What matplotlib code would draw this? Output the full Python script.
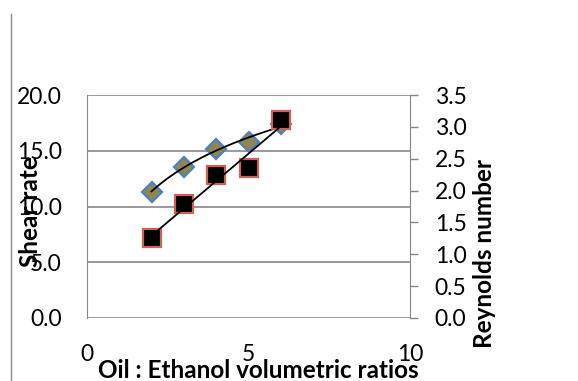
import numpy as np
import matplotlib
matplotlib.use("Agg")
import matplotlib.pyplot as plt
from matplotlib.lines import Line2D

plt.rcParams['font.family'] = ['Lato', 'DejaVu Sans']

# oil : ethanol volumetric ratio vs measured values
ratios = [2, 3, 4, 5, 6]
shear_rate = [11.33, 13.57, 15.16, 15.75, 17.4]
reynolds = [1.25, 1.79, 2.24, 2.36, 3.11]

xticks = [0, 5, 10]
shear_ticks = [0, 5, 10, 15, 20]
re_ticks = [0, 0.5, 1.0, 1.5, 2.0, 2.5, 3.0, 3.5]

W, H = 578, 381
grey = '#878787'

fig = plt.figure(figsize=(W / 100, H / 100), dpi=100)
ax = fig.add_axes([87 / W, 1 - 318 / H, (410 - 87) / W, (318 - 95) / H])
ax2 = ax.twinx()

# trend lines: log fit for shear rate, linear fit for Reynolds number
xs = np.linspace(min(ratios), max(ratios), 100)
b, a = np.polyfit(np.log(ratios), shear_rate, 1)
m, c = np.polyfit(ratios, reynolds, 1)

ax.plot(ratios, shear_rate, linestyle='none', marker='D', markersize=10,
        markerfacecolor='#8f8552', markeredgecolor='#4f81bd', markeredgewidth=1.6,
        zorder=3)
ax.plot(xs, a + b * np.log(xs), color='black', lw=1.3, zorder=4)

ax2.plot(ratios, reynolds, linestyle='none', marker='s', markersize=12.5,
         markerfacecolor='black', markeredgecolor='#d0605c', markeredgewidth=1.6,
         zorder=3)
ax2.plot(xs, m * np.array(xs) + c, color='black', lw=1.3, zorder=4)

ax.set_xlim(0, 10)
ax.set_ylim(0, 20)
ax2.set_ylim(0, 3.5)

ax.set_xticks(xticks)
ax.set_xticklabels([str(v) for v in xticks])
ax.set_yticks(shear_ticks)
ax.set_yticklabels(['%.1f' % v for v in shear_ticks])
ax2.set_yticks(re_ticks)
ax2.set_yticklabels(['%.1f' % v for v in re_ticks])

ax.grid(axis='y', color=grey, lw=1.2)
ax.set_axisbelow(True)
ax.tick_params(axis='x', length=0, pad=19, labelsize=16.5)
ax.tick_params(axis='y', length=0, pad=18, labelsize=16.5)
ax2.tick_params(axis='y', direction='out', length=5.8, width=1, color=grey,
                pad=12, labelsize=16.5)

for s in ['top', 'right', 'bottom']:
    ax.spines[s].set_visible(False)
ax.spines['left'].set_color(grey)
for s in ['top', 'left', 'bottom']:
    ax2.spines[s].set_visible(False)
ax2.spines['right'].set_color(grey)

fig.text(258 / W, 1 - 370 / H, 'Oil : Ethanol volumetric ratios', ha='center',
         va='center', fontsize=17.5, fontweight='bold')
fig.text(30 / W, 1 - 212 / H, 'Shear rate', rotation=90, ha='center',
         va='center', fontsize=17.5, fontweight='bold')
fig.text(485 / W, 1 - 254 / H, 'Reynolds number', rotation=90, ha='center',
         va='center', fontsize=17.5, fontweight='bold')

# chart area border on the left
fig.add_artist(Line2D([10.5 / W, 10.5 / W], [0, 1 - 14 / H],
                      transform=fig.transFigure, color='#8c8c8c', lw=1))

fig.savefig('out.png', dpi=100)
